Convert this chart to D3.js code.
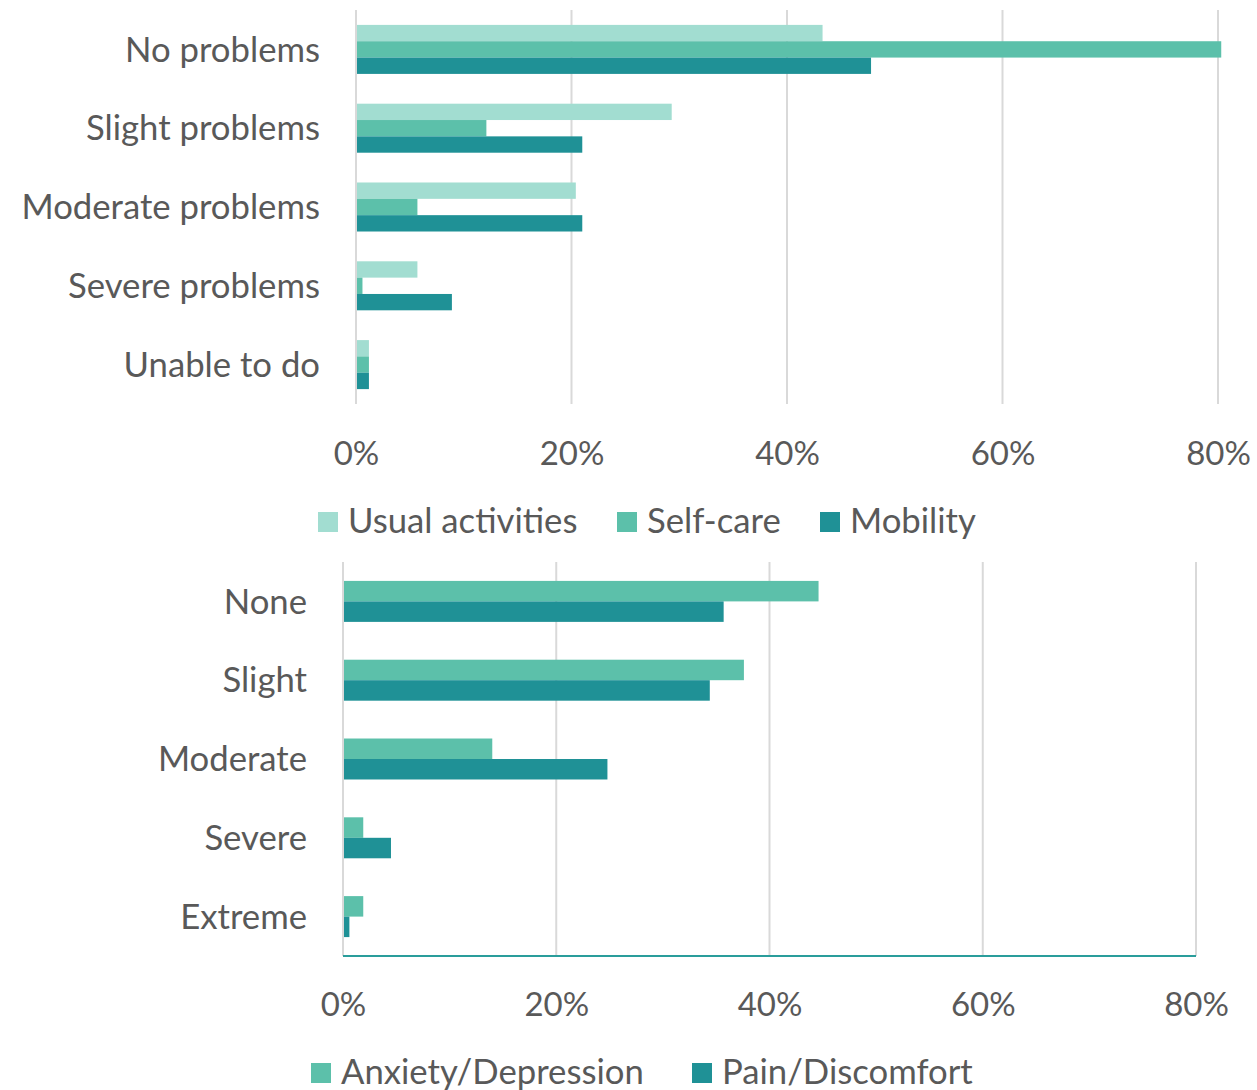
<!DOCTYPE html>
<html>
<head>
<meta charset="utf-8">
<script src="https://cdn.jsdelivr.net/npm/d3@7"></script>
<style>
  html, body { margin: 0; padding: 0; background: #ffffff; }
  svg { display: block; }
  text { font-family: Lato, "Open Sans", sans-serif; fill: #595959; }
</style>
</head>
<body>
<svg id="chart" width="1257" height="1090"></svg>
<script>
// EQ-5D dimensions: share of respondents at each level (percent)
const functionLevels = ["No problems", "Slight problems", "Moderate problems", "Severe problems", "Unable to do"];
const functionSeries = ["Usual activities", "Self-care", "Mobility"];
const usualActivities = [43.3, 29.3, 20.4, 5.7, 1.2];
const selfCare        = [80.3, 12.1, 5.7, 0.6, 1.2];
const mobility        = [47.8, 21.0, 21.0, 8.9, 1.2];

const symptomLevels = ["None", "Slight", "Moderate", "Severe", "Extreme"];
const symptomSeries = ["Anxiety/Depression", "Pain/Discomfort"];
const anxietyDepression = [44.6, 37.6, 14.0, 1.9, 1.9];
const painDiscomfort    = [35.7, 34.4, 24.8, 4.5, 0.6];

const tickValues = [0, 20, 40, 60, 80];
const tickLabels = ["0%", "20%", "40%", "60%", "80%"];

const colors = {
  "Usual activities": "#a2ddd1",
  "Self-care": "#5cc0aa",
  "Mobility": "#1f9196",
  "Anxiety/Depression": "#5cc0aa",
  "Pain/Discomfort": "#1f9196"
};

const svg = d3.select("#chart");
const labelSize = 34.7;
const tickSize = 33;

function drawPanel(cfg) {
  const g = svg.append("g");
  const x = d3.scaleLinear().domain([0, 80]).range([cfg.x0, cfg.x1]);
  const y = d3.scaleBand().domain(cfg.levels).range([cfg.y0, cfg.y1])
    .paddingInner(cfg.pad).paddingOuter(cfg.pad / 2);
  const ys = d3.scaleBand().domain(cfg.series).range([0, y.bandwidth()]);

  // vertical gridlines
  g.append("g").selectAll("line").data(tickValues).join("line")
    .attr("x1", d => x(d)).attr("x2", d => x(d))
    .attr("y1", cfg.y0).attr("y2", cfg.y1)
    .attr("stroke", "#d9d9d9").attr("stroke-width", 2);

  // bars
  cfg.series.forEach((s, si) => {
    const vals = cfg.values[si];
    g.append("g").selectAll("rect").data(cfg.levels).join("rect")
      .attr("x", x(0) + 1)
      .attr("y", (d) => y(d) + ys(s))
      .attr("width", (d, i) => x(vals[i]) - x(0) - 1)
      .attr("height", ys.bandwidth())
      .attr("fill", colors[s]);
  });

  if (cfg.baseline) {
    g.append("line")
      .attr("x1", x(0)).attr("x2", x(80))
      .attr("y1", cfg.y1).attr("y2", cfg.y1)
      .attr("stroke", "#2a9d9b").attr("stroke-width", 2);
  }

  // category labels
  g.append("g").selectAll("text").data(cfg.levels).join("text")
    .attr("x", cfg.labelX)
    .attr("y", d => y(d) + y.bandwidth() / 2)
    .attr("dy", "0.35em")
    .attr("text-anchor", "end")
    .style("font-size", labelSize + "px")
    .text(d => d);

  // x axis tick labels
  const axis = d3.axisBottom(x).tickValues(tickValues)
    .tickFormat((d, i) => tickLabels[i]).tickSize(0).tickPadding(0);
  const ax = g.append("g").attr("transform", `translate(0,${cfg.tickY})`).call(axis);
  ax.select(".domain").remove();
  ax.selectAll("text")
    .attr("y", 0).attr("dy", "0")
    .style("font-size", tickSize + "px")
    .style("font-family", "Lato, 'Open Sans', sans-serif")
    .attr("fill", "#595959");

  // legend
  const lg = g.append("g");
  cfg.series.forEach((s, si) => {
    const lx = cfg.legendX[si];
    lg.append("rect")
      .attr("x", lx).attr("y", cfg.legendY - 21)
      .attr("width", 20).attr("height", 20)
      .attr("fill", colors[s]);
    lg.append("text")
      .attr("x", lx + 30).attr("y", cfg.legendY)
      .style("font-size", labelSize + "px")
      .text(s);
  });
}

drawPanel({
  levels: functionLevels,
  series: functionSeries,
  values: [usualActivities, selfCare, mobility],
  x0: 356, x1: 1218, y0: 10, y1: 404, pad: 0.378,
  labelX: 320, tickY: 465,
  legendX: [318, 617, 820], legendY: 533,
  baseline: false
});

drawPanel({
  levels: symptomLevels,
  series: symptomSeries,
  values: [anxietyDepression, painDiscomfort],
  x0: 343, x1: 1196, y0: 562, y1: 956, pad: 0.48,
  labelX: 307, tickY: 1016,
  legendX: [311, 692], legendY: 1084,
  baseline: true
});
</script>
</body>
</html>
